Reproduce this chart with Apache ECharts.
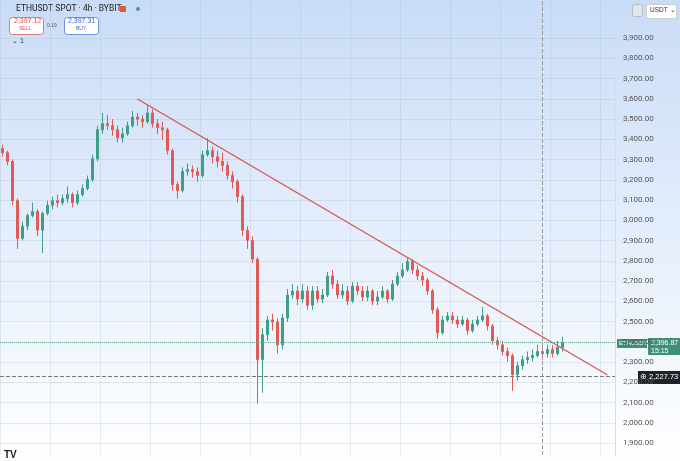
<!DOCTYPE html>
<html><head><meta charset="utf-8">
<script src="https://cdn.jsdelivr.net/npm/echarts@6/dist/echarts.min.js"></script>
<style>html,body{margin:0;padding:0;background:#fff}#chart{width:680px;height:461px}</style>
</head><body><div id="chart"></div>
<script>
// 4h candles
let opens = [3354,3334,3291,3097,2911,2971,3024,3044,2951,3034,3074,3097,3087,3107,3127,3087,3127,3157,3201,3304,
3447,3477,3467,3447,3407,3427,3467,3510,3500,3487,3530,3477,3457,3447,3344,3177,3147,3241,3251,3241,
3221,3324,3344,3314,3291,3271,3221,3191,3117,2951,2901,2808,2312,2435,2508,2498,2385,2518,2631,2651,
2611,2651,2581,2651,2611,2631,2725,2685,2631,2651,2601,2675,2651,2621,2651,2601,2621,2651,2611,2685,
2725,2755,2798,2755,2725,2705,2651,2558,2445,2508,2528,2508,2488,2508,2455,2488,2508,2528,2478,2405,
2385,2352,2332,2238,2282,2312,2322,2332,2352,2342,2362,2342,2372];
let closes = [3334,3291,3097,2911,2971,3024,3044,2951,3034,3074,3097,3087,3107,3127,3087,3127,3157,3201,3304,3447,
3477,3467,3447,3407,3427,3467,3510,3500,3487,3530,3477,3457,3447,3344,3177,3147,3241,3251,3241,3221,
3324,3344,3314,3291,3271,3221,3191,3117,2951,2901,2808,2312,2435,2508,2498,2385,2518,2631,2651,2611,
2651,2581,2651,2611,2631,2725,2685,2631,2651,2601,2675,2651,2621,2651,2601,2621,2651,2611,2685,2725,
2755,2798,2755,2725,2705,2651,2558,2445,2508,2528,2508,2488,2508,2455,2488,2508,2528,2478,2405,2385,
2352,2332,2238,2282,2312,2322,2332,2352,2342,2362,2342,2372,2397];
let highs = [3374,3344,3301,3107,2994,3034,3087,3054,3044,3097,3117,3127,3127,3167,3137,3147,3177,3221,3324,3467,
3530,3520,3500,3467,3457,3487,3540,3530,3520,3570,3550,3500,3487,3457,3354,3191,3261,3281,3271,3261,
3344,3407,3364,3344,3334,3291,3241,3201,3127,2971,2921,2818,2468,2528,2538,2518,2538,2661,2685,2675,
2685,2675,2675,2675,2661,2745,2755,2705,2685,2675,2695,2695,2675,2675,2661,2651,2675,2661,2705,2745,
2788,2818,2808,2778,2745,2715,2661,2571,2528,2548,2548,2528,2528,2518,2508,2528,2571,2538,2488,2425,
2405,2372,2342,2302,2332,2352,2362,2385,2372,2385,2385,2405,2425];
let lows = [3314,3271,3074,2859,2901,2951,3014,2921,2838,3024,3054,3064,3074,3087,3064,3074,3117,3147,3191,3291,
3427,3447,3417,3384,3384,3417,3457,3467,3457,3477,3457,3427,3397,3324,3147,3107,3137,3221,3211,3191,
3211,3314,3281,3261,3241,3201,3157,3087,2921,2859,2788,2095,2148,2405,2455,2342,2362,2498,2611,2581,
2591,2558,2558,2591,2591,2621,2661,2611,2611,2581,2591,2631,2601,2601,2581,2581,2611,2591,2601,2675,
2715,2745,2735,2705,2675,2631,2538,2415,2435,2498,2488,2468,2478,2435,2445,2478,2498,2455,2385,2362,
2332,2302,2158,2208,2262,2292,2302,2322,2312,2322,2322,2332,2352];
let priceTicks = [1900,2000,2100,2200,2300,2400,2500,2600,2700,2800,2900,3000,3100,3200,3300,3400,3500,3600,3700,3800,3900];
let emptyBars = 10;
let trendStart = [27, 3599];
let trendEnd = [121, 2236];
let lastPrice = 2396.87;
let alertPrice = 2227.73;
let cursorBar = 108;

let cats = [];
let candles = [];
for (let i = 0; i < opens.length + emptyBars; i++) {
  cats.push(String(i));
  if (i < opens.length) candles.push([opens[i], closes[i], lows[i], highs[i]]);
  else candles.push('-');
}

function fmt(v) {
  return v.toLocaleString('en-US', {minimumFractionDigits: 2, maximumFractionDigits: 2});
}

let myChart = echarts.init(document.getElementById('chart'));

option = {
  animation: false,
  backgroundColor: {
    type: 'linear', x: 0, y: 0, x2: 0, y2: 1,
    colorStops: [{offset: 0, color: '#c9dcf7'}, {offset: 1, color: '#ffffff'}]
  },
  grid: {left: 0, right: 65, top: 0, bottom: 6, outerBoundsMode: 'none'},
  xAxis: {
    type: 'category',
    data: cats,
    axisLine: {show: false},
    axisTick: {show: false},
    axisLabel: {show: false},
    splitLine: {show: true, interval: 9, lineStyle: {color: 'rgba(160,180,200,0.25)'}}
  },
  yAxis: {
    type: 'value',
    position: 'right',
    min: 1841,
    max: 4088,
    axisLine: {show: true, lineStyle: {color: '#d8dce3'}},
    axisTick: {show: false, customValues: priceTicks},
    splitLine: {lineStyle: {color: 'rgba(160,180,200,0.25)'}},
    axisLabel: {
      fontSize: 8, color: '#555', fontFamily: 'Roboto', margin: 8,
      customValues: priceTicks,
      formatter: v => fmt(v)
    }
  },
  series: [{
    type: 'candlestick',
    data: candles,
    barWidth: 3,
    itemStyle: {color: '#3f9e88', color0: '#e05a58', borderColor: '#3f9e88', borderColor0: '#e05a58'},
    markLine: {
      silent: true,
      symbol: 'none',
      label: {show: false},
      data: [
        [{coord: trendStart, lineStyle: {color: '#d9534f', width: 1.3, type: 'solid'}}, {coord: trendEnd}],
        {yAxis: lastPrice, lineStyle: {color: '#6aa890', type: 'dotted', width: 1}},
        {yAxis: alertPrice, lineStyle: {color: '#777', type: 'dashed', width: 1}},
        {xAxis: cursorBar, lineStyle: {color: '#999', type: 'dashed', width: 1}}
      ]
    }
  }],
  graphic: [
    {type: 'text', left: 16, top: 4, style: {text: 'ETHUSDT SPOT · 4h · BYBIT', fontSize: 8.5, fill: '#222', fontFamily: 'Roboto'}},
    {type: 'rect', left: 120, top: 6, shape: {width: 6, height: 6}, style: {fill: '#e05a3a'}},
    {type: 'circle', left: 136, top: 7, shape: {r: 2}, style: {fill: '#3f9e88'}},
    {type: 'rect', left: 9, top: 17, shape: {width: 34, height: 17, r: 3}, style: {fill: '#fff', stroke: '#e07a78'}},
    {type: 'text', left: 14, top: 18, style: {text: '2,397.12', fontSize: 7, fill: '#d9534f'}},
    {type: 'text', left: 19, top: 26, style: {text: 'SELL', fontSize: 5, fill: '#d9534f'}},
    {type: 'text', left: 47, top: 23, style: {text: '0.19', fontSize: 5, fill: '#555'}},
    {type: 'rect', left: 64, top: 17, shape: {width: 34, height: 17, r: 3}, style: {fill: '#fff', stroke: '#6f8fe0'}},
    {type: 'text', left: 68, top: 18, style: {text: '2,397.31', fontSize: 7, fill: '#3a5fc8'}},
    {type: 'text', left: 76, top: 26, style: {text: 'BUY', fontSize: 5, fill: '#3a5fc8'}},
    {type: 'text', left: 12, top: 38, style: {text: '⌄ 1', fontSize: 7, fill: '#333'}},
    {type: 'rect', left: 646, top: 4, shape: {width: 30, height: 14, r: 2}, style: {fill: '#fff', stroke: '#ccc'}},
    {type: 'text', left: 650, top: 7, style: {text: 'USDT ⌄', fontSize: 6.5, fill: '#333'}},
    {type: 'rect', left: 632, top: 4, shape: {width: 10, height: 12, r: 2}, style: {fill: '#dfe6f0', stroke: '#bbb'}},
    {type: 'rect', left: 617, top: 339, shape: {width: 30, height: 9}, style: {fill: '#3f8f78'}},
    {type: 'text', left: 619, top: 340, style: {text: 'ETHUSDT', fontSize: 6, fill: '#fff'}},
    {type: 'rect', left: 648, top: 338, shape: {width: 32, height: 17}, style: {fill: '#3f8f78'}},
    {type: 'text', left: 651, top: 339, style: {text: '2,396.87\n15:15', fontSize: 7, fill: '#fff', lineHeight: 8}},
    {type: 'rect', left: 638, top: 371, shape: {width: 42, height: 13}, style: {fill: '#1f2228'}},
    {type: 'text', left: 640, top: 373, style: {text: '⊕ 2,227.73', fontSize: 7.5, fill: '#fff'}},
    {type: 'text', left: 4, top: 450, style: {text: 'TV', fontSize: 10, fontWeight: 'bold', fill: '#222'}}
  ]
};

myChart.setOption(option);
</script>
</body></html>
